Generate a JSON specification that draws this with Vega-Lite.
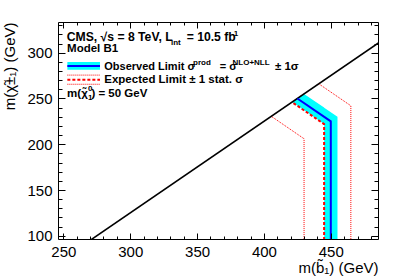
{
  "$schema": "https://vega.github.io/schema/vega-lite/v6.json",
  "width": 320,
  "height": 217,
  "autosize": "none",
  "padding": {"left": 58, "top": 22, "right": 29, "bottom": 37},
  "background": "white",
  "config": {"view": {"stroke": "black", "strokeWidth": 1}, "font": "Liberation Sans Narrow, Liberation Sans, sans-serif"},
  "datasets": {
    "band": [
      {"x": 421, "lo": 246, "hi": 246},
      {"x": 430, "lo": 237, "hi": 255},
      {"x": 445, "lo": 222, "hi": 240},
      {"x": 445.05, "lo": 90, "hi": 239.95},
      {"x": 455, "lo": 90, "hi": 230}
    ],
    "diag": [{"x": 265, "y": 90, "o": 1}, {"x": 490, "y": 315, "o": 2}],
    "obs": [{"x": 450, "y": 90, "o": 1}, {"x": 450, "y": 225, "o": 2}, {"x": 425, "y": 250, "o": 3}],
    "exp": [{"x": 445, "y": 90, "o": 1}, {"x": 445, "y": 222, "o": 2}, {"x": 421, "y": 246, "o": 3}],
    "up": [{"x": 465, "y": 90, "o": 1}, {"x": 465, "y": 242, "o": 2}, {"x": 441, "y": 266, "o": 3}],
    "dn": [{"x": 430, "y": 90, "o": 1}, {"x": 430, "y": 206, "o": 2}, {"x": 405.5, "y": 230.5, "o": 3}],
    "legbox": [{"x": 253, "x2": 277.4, "y": 281.4, "y2": 289.7}],
    "legobs": [{"x": 253, "x2": 277.4, "y": 285.5}],
    "legexp": [{"x": 253, "x2": 277.4, "y": 270.5}],
    "legpm": [{"x": 253, "x2": 277.4, "y": 275.5}, {"x": 253, "x2": 277.4, "y": 265.5}],
    "head": [
      {"t": "CMS, √s = 8 TeV, L", "x": 252.5, "y": 312.4},
      {"t": "= 10.5 fb", "x": 342.2, "y": 312.4}
    ],
    "obstxt": [
      {"t": "Observed Limit σ", "x": 280.6, "y": 281.4},
      {"t": "= σ", "x": 367, "y": 281.4}
    ],
    "txt": [
      {"t": "Model B1", "x": 252.8, "y": 300.5},
      {"t": "± 1σ", "x": 408.2, "y": 281.4},
      {"t": "Expected Limit ± 1 stat. σ", "x": 280.6, "y": 266.4},
      {"t": "m(χ̃", "x": 252.8, "y": 251.1},
      {"t": ") = 50 GeV", "x": 271, "y": 251.1}
    ],
    "small": [
      {"t": "int", "x": 330.5, "y": 308},
      {"t": "-1", "x": 375.5, "y": 317.8},
      {"t": "prod", "x": 347, "y": 287},
      {"t": "NLO+NLL", "x": 376.5, "y": 287},
      {"t": "0", "x": 268.5, "y": 257.6},
      {"t": "1", "x": 268.5, "y": 247.8}
    ]
  },
  "resolve": {"axis": {"x": "independent", "y": "independent"}},
  "layer": [
    {
      "data": {"name": "band"},
      "mark": {"type": "area", "color": "#00ffff", "clip": true},
      "encoding": {
        "x": {"field": "x", "type": "quantitative", "scale": {"domain": [246, 485.3], "nice": false, "zero": false},
          "axis": {"orient": "bottom", "values": [250,260,270,280,290,300,310,320,330,340,350,360,370,380,390,400,410,420,430,440,450,460,470,480], "tickSize": -3, "tickColor": "black", "labels": false, "domain": false, "grid": false, "title": null, "zindex": 1}},
        "y": {"field": "lo", "type": "quantitative", "stack": null, "scale": {"domain": [96.5, 333.5], "nice": false, "zero": false},
          "axis": {"orient": "left", "values": [100,110,120,130,140,150,160,170,180,190,200,210,220,230,240,250,260,270,280,290,300,310,320,330], "tickSize": -4, "tickColor": "black", "labels": false, "domain": false, "grid": false, "title": null, "zindex": 1}},
        "y2": {"field": "hi"}
      }
    },
    {
      "data": {"name": "diag"},
      "mark": {"type": "line", "color": "black", "strokeWidth": 1.6, "clip": true},
      "encoding": {
        "x": {"field": "x", "type": "quantitative",
          "axis": {"orient": "bottom", "values": [250,300,350,400,450], "tickSize": -6, "tickColor": "black", "labelPadding": 11, "labelFontSize": 15, "labelColor": "black", "labelFlush": false, "labelOverlap": false, "domain": false, "grid": false, "zindex": 1,
            "title": "m(b̃₁) (GeV)", "titleFontSize": 15, "titleFontWeight": "normal", "titleColor": "black", "titleX": 320, "titleY": 33, "titleAlign": "right", "titleAnchor": null, "titleBaseline": "alphabetic"}},
        "y": {"field": "y", "type": "quantitative",
          "axis": {"orient": "left", "values": [100,150,200,250,300], "tickSize": -7, "tickColor": "black", "labelPadding": 13, "labelFontSize": 15, "labelColor": "black", "labelFlush": false, "labelOverlap": false, "domain": false, "grid": false, "zindex": 1,
            "title": "m(χ̃±₁) (GeV)", "titleFontSize": 15, "titleFontWeight": "normal", "titleColor": "black", "titleX": -43.5, "titleY": 0, "titleAngle": -90, "titleAlign": "right", "titleAnchor": null, "titleBaseline": "alphabetic"}},
        "order": {"field": "o", "type": "quantitative"}
      }
    },
    {
      "data": {"name": "obs"},
      "mark": {"type": "line", "color": "#0000ff", "strokeWidth": 2, "clip": true},
      "encoding": {
        "x": {"field": "x", "type": "quantitative",
          "axis": {"orient": "top", "values": [250,300,350,400,450], "tickSize": -6, "tickColor": "black", "labels": false, "domain": false, "grid": false, "title": null, "zindex": 1}},
        "y": {"field": "y", "type": "quantitative",
          "axis": {"orient": "right", "values": [100,150,200,250,300], "tickSize": -7, "tickColor": "black", "labels": false, "domain": false, "grid": false, "title": null, "zindex": 1}},
        "order": {"field": "o", "type": "quantitative"}
      }
    },
    {
      "data": {"name": "exp"},
      "mark": {"type": "line", "color": "#ff0000", "strokeWidth": 2, "strokeDash": [3, 2], "clip": true},
      "encoding": {
        "x": {"field": "x", "type": "quantitative",
          "axis": {"orient": "top", "values": [250,260,270,280,290,300,310,320,330,340,350,360,370,380,390,400,410,420,430,440,450,460,470,480], "tickSize": -3, "tickColor": "black", "labels": false, "domain": false, "grid": false, "title": null, "zindex": 1}},
        "y": {"field": "y", "type": "quantitative",
          "axis": {"orient": "right", "values": [100,110,120,130,140,150,160,170,180,190,200,210,220,230,240,250,260,270,280,290,300,310,320,330], "tickSize": -4, "tickColor": "black", "labels": false, "domain": false, "grid": false, "title": null, "zindex": 1}},
        "order": {"field": "o", "type": "quantitative"}
      }
    },
    {
      "data": {"name": "up"},
      "mark": {"type": "line", "color": "#ff0000", "strokeWidth": 1, "strokeDash": [1, 1], "clip": true},
      "encoding": {
        "x": {"field": "x", "type": "quantitative", "axis": null},
        "y": {"field": "y", "type": "quantitative", "axis": null},
        "order": {"field": "o", "type": "quantitative"}
      }
    },
    {
      "data": {"name": "dn"},
      "mark": {"type": "line", "color": "#ff0000", "strokeWidth": 1, "strokeDash": [1, 1], "clip": true},
      "encoding": {
        "x": {"field": "x", "type": "quantitative", "axis": null},
        "y": {"field": "y", "type": "quantitative", "axis": null},
        "order": {"field": "o", "type": "quantitative"}
      }
    },
    {
      "data": {"name": "legbox"},
      "mark": {"type": "rect", "color": "#00ffff"},
      "encoding": {
        "x": {"field": "x", "type": "quantitative", "axis": null},
        "x2": {"field": "x2"},
        "y": {"field": "y", "type": "quantitative", "axis": null},
        "y2": {"field": "y2"}
      }
    },
    {
      "data": {"name": "legobs"},
      "mark": {"type": "rule", "color": "#0000ff", "strokeWidth": 2},
      "encoding": {
        "x": {"field": "x", "type": "quantitative", "axis": null},
        "x2": {"field": "x2"},
        "y": {"field": "y", "type": "quantitative", "axis": null}
      }
    },
    {
      "data": {"name": "legexp"},
      "mark": {"type": "rule", "color": "#ff0000", "strokeWidth": 2, "strokeDash": [3, 2]},
      "encoding": {
        "x": {"field": "x", "type": "quantitative", "axis": null},
        "x2": {"field": "x2"},
        "y": {"field": "y", "type": "quantitative", "axis": null}
      }
    },
    {
      "data": {"name": "legpm"},
      "mark": {"type": "rule", "color": "#ff0000", "strokeWidth": 1, "strokeDash": [1, 1]},
      "encoding": {
        "x": {"field": "x", "type": "quantitative", "axis": null},
        "x2": {"field": "x2"},
        "y": {"field": "y", "type": "quantitative", "axis": null}
      }
    },
    {
      "data": {"name": "head"},
      "mark": {"type": "text", "align": "left", "baseline": "alphabetic", "fontSize": 12.2, "fontWeight": "bold", "color": "black"},
      "encoding": {
        "x": {"field": "x", "type": "quantitative", "axis": null},
        "y": {"field": "y", "type": "quantitative", "axis": null},
        "text": {"field": "t"}
      }
    },
    {
      "data": {"name": "obstxt"},
      "mark": {"type": "text", "align": "left", "baseline": "alphabetic", "fontSize": 11, "fontWeight": "bold", "color": "black"},
      "encoding": {
        "x": {"field": "x", "type": "quantitative", "axis": null},
        "y": {"field": "y", "type": "quantitative", "axis": null},
        "text": {"field": "t"}
      }
    },
    {
      "data": {"name": "txt"},
      "mark": {"type": "text", "align": "left", "baseline": "alphabetic", "fontSize": 11.5, "fontWeight": "bold", "color": "black"},
      "encoding": {
        "x": {"field": "x", "type": "quantitative", "axis": null},
        "y": {"field": "y", "type": "quantitative", "axis": null},
        "text": {"field": "t"}
      }
    },
    {
      "data": {"name": "small"},
      "mark": {"type": "text", "align": "left", "baseline": "alphabetic", "fontSize": 8, "fontWeight": "bold", "color": "black"},
      "encoding": {
        "x": {"field": "x", "type": "quantitative", "axis": null},
        "y": {"field": "y", "type": "quantitative", "axis": null},
        "text": {"field": "t"}
      }
    }
  ]
}
